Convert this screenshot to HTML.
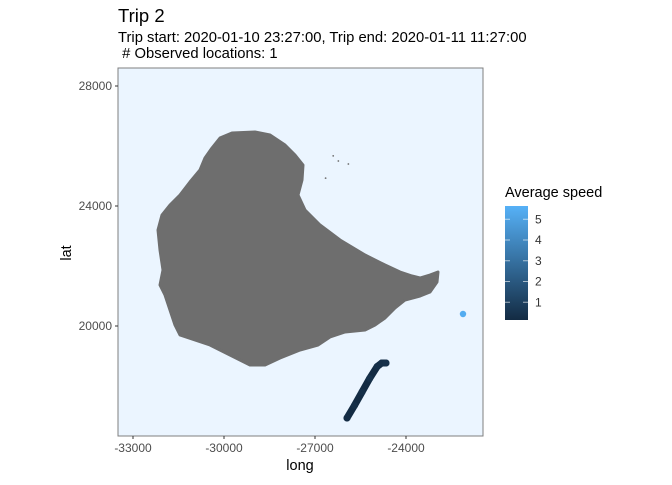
<!DOCTYPE html>
<html><head><meta charset="utf-8"><style>
body{margin:0;background:#fff;font-family:"Liberation Sans",sans-serif}
svg text{font-family:"Liberation Sans",sans-serif}
</style></head><body>
<svg id="c" width="672" height="480">
<text x="118" y="22" font-size="18.5" fill="#000">Trip 2</text>
<text x="118" y="42" font-size="14.8" fill="#000">Trip start: 2020-01-10 23:27:00, Trip end: 2020-01-11 11:27:00</text>
<text x="118" y="58" font-size="14.8" fill="#000" xml:space="preserve"> # Observed locations: 1</text>
<rect x="118" y="68" width="365" height="368" fill="#EBF5FF" stroke="#7f7f7f" stroke-width="1"/>
<g id="marks"></g>
<g id="axes"></g>
<text x="300" y="470" font-size="14.5" text-anchor="middle">long</text>
<text transform="translate(71,253) rotate(-90)" font-size="14.5" text-anchor="middle">lat</text>
<text x="505" y="197" font-size="14.5">Average speed</text>
<defs><linearGradient id="g" x1="0" y1="1" x2="0" y2="0"><stop offset="0" stop-color="#132B43"/><stop offset="1" stop-color="#56B1F7"/></linearGradient></defs>
<rect x="505" y="206" width="23" height="114" fill="url(#g)"/>
<g id="leg"></g>
</svg>
<script>
const xTicks=[-33000,-30000,-27000,-24000];
const yTicks=[20000,24000,28000];
const legendTicks=[1,2,3,4,5];
const islandLong=[-30395,-30132,-29736,-28978,-28483,-27989,-27659,-27395,-27428,-27560,-27329,-26835,-26175,-25351,-24692,-24197,-23802,-23538,-23208,-22945,-22978,-23208,-23538,-24032,-24362,-24692,-25022,-25351,-26011,-26505,-26901,-27494,-28154,-28648,-29143,-29802,-30461,-30956,-31450,-31615,-31780,-31945,-32110,-32011,-32110,-32176,-32044,-31780,-31450,-31121,-30791,-30626];
const islandLat=[25933,26267,26433,26467,26367,26033,25700,25367,24867,24367,23867,23367,22867,22367,22033,21800,21667,21600,21700,21800,21467,21133,21000,20867,20600,20267,20033,19867,19800,19633,19367,19200,18933,18700,18700,19033,19367,19533,19700,20033,20533,21033,21367,21867,22533,23200,23700,24033,24367,24800,25200,25600];
const isletLong=[-26400,-26230,-25900,-26650];
const isletLat=[25670,25500,25400,24930];
const trackLong=[-25945,-25700,-25450,-25200,-24950,-24800,-24659];
const trackLat=[16933,17350,17800,18250,18650,18767,18767];
const trackSpeed=[0.2,0.3,0.3,0.4,0.3,0.3,0.4];
const obsLong=[-22121];
const obsLat=[20400];
const obsSpeed=[5.3];
const ns="http://www.w3.org/2000/svg";
const X=v=>133+(v+33000)*91/3000;
const Y=v=>326-(v-20000)*0.03;
const L=v=>323-v*20.75;
function col(s){const t=Math.max(0,Math.min(1,(s-0.15)/5.35));const a=[0x13,0x2B,0x43],b=[0x56,0xB1,0xF7];return `rgb(${a.map((c,i)=>Math.round(c+(b[i]-c)*t)).join(',')})`;}
function mk(t,p,at){const e=document.createElementNS(ns,t);for(const k in at)e.setAttribute(k,at[k]);p.appendChild(e);return e;}
const m=document.getElementById('marks'),ax=document.getElementById('axes'),lg=document.getElementById('leg');
let d=islandLong.map((v,i)=>(i?'L':'M')+X(v).toFixed(1)+','+Y(islandLat[i]).toFixed(1)).join('')+'Z';
const isl=mk('path',m,{d:d,fill:'#6e6e6e','stroke':'#6e6e6e','stroke-width':3,'stroke-linejoin':'round'});


isletLong.forEach((v,i)=>{const c=mk('circle',m,{cx:X(v),cy:Y(isletLat[i]),r:0.9,fill:'#6e6e6e'});

});
const tp=mk('path',m,{d:trackLong.map((v,i)=>(i?'L':'M')+X(v)+','+Y(trackLat[i])).join(''),fill:'none',stroke:'#132B43','stroke-width':7,'stroke-linecap':'round','stroke-linejoin':'round'});


trackLong.forEach((v,i)=>{const c=mk('circle',m,{cx:X(v),cy:Y(trackLat[i]),r:3.5,fill:col(trackSpeed[i])});

});
obsLong.forEach((v,i)=>{const c=mk('circle',m,{cx:X(v),cy:Y(obsLat[i]),r:3.2,fill:col(obsSpeed[i])});

});
xTicks.forEach(v=>{const x=X(v);mk('line',ax,{x1:x,x2:x,y1:436,y2:439,stroke:'#333'});
const t=mk('text',ax,{x:x,y:452,'font-size':12,fill:'#4d4d4d','text-anchor':'middle'});t.textContent=v;

});
yTicks.forEach(v=>{const y=Y(v);mk('line',ax,{x1:115,x2:118,y1:y,y2:y,stroke:'#333'});
const t=mk('text',ax,{x:112,y:y+4,'font-size':12,fill:'#4d4d4d','text-anchor':'end'});t.textContent=v;

});
legendTicks.forEach(v=>{const y=L(v);mk('line',lg,{x1:505,x2:510,y1:y,y2:y,stroke:'#fff','stroke-opacity':0.6});mk('line',lg,{x1:523,x2:528,y1:y,y2:y,stroke:'#fff','stroke-opacity':0.6});
const t=mk('text',lg,{x:535,y:y+4,'font-size':12,fill:'#333'});t.textContent=v;

});
</script>
</body></html>
